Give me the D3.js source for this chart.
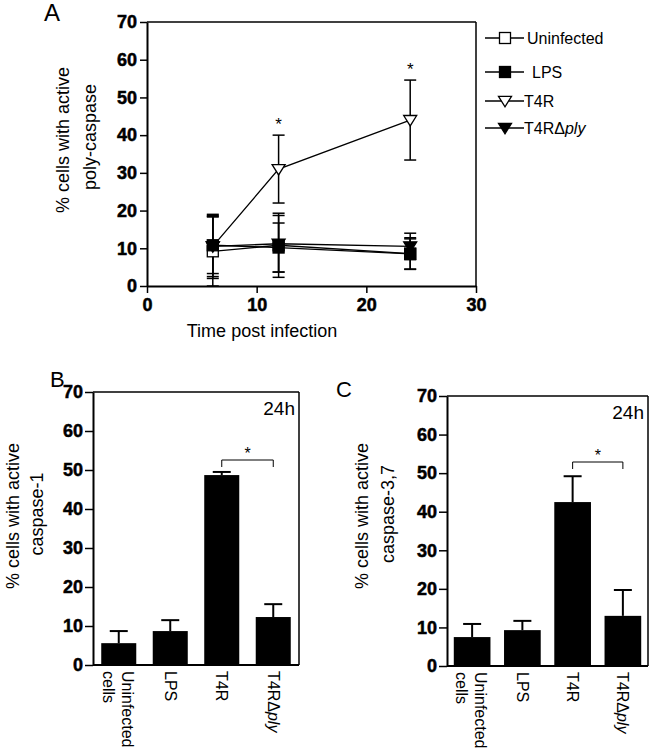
<!DOCTYPE html>
<html><head><meta charset="utf-8">
<script src="https://cdn.jsdelivr.net/npm/d3@7"></script>
<style>
body{margin:0;background:#fff;}
svg{display:block;font-family:"Liberation Sans",Arial,sans-serif;}
.tick text{font-family:"Liberation Sans",Arial,sans-serif;font-size:18px;font-weight:bold;fill:#000;stroke:#000;stroke-width:0.5px;}
</style></head>
<body><svg id="c" width="650" height="751"></svg>
<script>
// ---- Panel A data ----
const timePoints = [6, 12, 24];
const seriesNames = ["Uninfected", "LPS", "T4R", "T4R\u0394ply"];
const uninfectedVals = [9.2, 10.8, 8.6];
const uninfectedErr  = [9.5, 8.5, 4.2];
const lpsVals = [10.8, 10.2, 8.5];
const lpsErr  = [7.5, 6.5, 4.0];
const t4rVals = [10.5, 31.0, 44.0];
const t4rErr  = [8.0, 9.0, 10.6];
const t4rplyVals = [10.5, 11.2, 10.5];
const t4rplyErr  = [8.5, 7.5, 3.5];
const aXTicks = [0, 10, 20, 30];
const yTicks = [0, 10, 20, 30, 40, 50, 60, 70];
const aStars = [12, 24];

// ---- Panel B / C data ----
const barCategories = ["Uninfected cells", "LPS", "T4R", "T4R\u0394ply"];
const caspase1Vals = [5.6, 8.7, 48.7, 12.3];
const caspase1Err  = [3.1, 2.8, 0.8, 3.3];
const caspase37Vals = [7.5, 9.3, 42.5, 13.0];
const caspase37Err  = [3.4, 2.4, 6.7, 6.7];

const svg = d3.select("#c");
const black = "#000";

// ===== Panel A =====
const ax = d3.scaleLinear().domain([0, 30]).range([147, 476]);
const ay = d3.scaleLinear().domain([0, 70]).range([286, 22]);
const gA = svg.append("g");

function styleAxis(g){
  g.attr("font-size", null).attr("font-family", null);
  g.selectAll("path.domain").attr("stroke", black).attr("stroke-width", 2);
  g.selectAll(".tick line").attr("stroke", black).attr("stroke-width", 1.5);
  g.selectAll(".tick text").attr("font-weight", "bold");
}
const yA = gA.append("g").attr("transform", "translate(147,0)")
  .call(d3.axisLeft(ay).tickValues(yTicks).tickSize(7).tickSizeOuter(0).tickPadding(3));
styleAxis(yA);
const xA = gA.append("g").attr("transform", "translate(0,286)")
  .call(d3.axisBottom(ax).tickValues(aXTicks).tickSize(7).tickSizeOuter(0).tickPadding(5));
styleAxis(xA);
// frame
gA.append("line").attr("x1", 147).attr("x2", 476).attr("y1", 22).attr("y2", 22).attr("stroke", black).attr("stroke-width", 1.5);
gA.append("line").attr("x1", 476).attr("x2", 476).attr("y1", 22).attr("y2", 286).attr("stroke", black).attr("stroke-width", 1.5);

const series = [
  {name: seriesNames[2], vals: t4rVals, err: t4rErr, marker: "triDownOpen"},
  {name: seriesNames[0], vals: uninfectedVals, err: uninfectedErr, marker: "sqOpen"},
  {name: seriesNames[1], vals: lpsVals, err: lpsErr, marker: "sqFill"},
  {name: seriesNames[3], vals: t4rplyVals, err: t4rplyErr, marker: "triDownFill"}
];

function drawMarker(g, type, cx, cy){
  if (type === "sqOpen" || type === "sqFill"){
    g.append("rect").attr("x", cx - 5.5).attr("y", cy - 5.5).attr("width", 11).attr("height", 11)
      .attr("fill", type === "sqFill" ? black : "#fff").attr("stroke", black).attr("stroke-width", 1.3);
  } else {
    const s = 6.5;
    g.append("path").attr("d", `M${cx - s},${cy - s * 0.7}L${cx + s},${cy - s * 0.7}L${cx},${cy + s * 0.9}Z`)
      .attr("fill", type === "triDownFill" ? black : "#fff").attr("stroke", black).attr("stroke-width", 1.3);
  }
}

const line = d3.line().x(d => ax(d[0])).y(d => ay(d[1]));
series.forEach(s => {
  const pts = timePoints.map((t, i) => [t, s.vals[i]]);
  gA.append("path").attr("d", line(pts)).attr("fill", "none").attr("stroke", black).attr("stroke-width", 1.3);
});
series.forEach(s => {
  timePoints.forEach((t, i) => {
    const x = ax(t), y1 = ay(s.vals[i] + s.err[i]), y0 = ay(Math.max(0, s.vals[i] - s.err[i]));
    gA.append("line").attr("x1", x).attr("x2", x).attr("y1", y1).attr("y2", y0).attr("stroke", black).attr("stroke-width", 1.5);
    [y1, y0].forEach(yy => gA.append("line").attr("x1", x - 6).attr("x2", x + 6).attr("y1", yy).attr("y2", yy)
      .attr("stroke", black).attr("stroke-width", 1.5));
  });
});
series.forEach(s => {
  timePoints.forEach((t, i) => drawMarker(gA, s.marker, ax(t), ay(s.vals[i])));
});
// stars
aStars.forEach(t => {
  const i = timePoints.indexOf(t);
  const s = series[0];
  gA.append("text").attr("x", ax(t)).attr("y", ay(s.vals[i] + s.err[i]) - 5).attr("text-anchor", "middle")
    .attr("font-size", 17).text("*");
});
// axis titles
gA.append("text").attr("x", 262).attr("y", 337).attr("text-anchor", "middle").attr("font-size", 18).text("Time post infection");
gA.append("text").attr("transform", "translate(69,140) rotate(-90)").attr("text-anchor", "middle").attr("font-size", 18).text("% cells with active");
gA.append("text").attr("transform", "translate(96,137) rotate(-90)").attr("text-anchor", "middle").attr("font-size", 18).text("poly-caspase");
gA.append("text").attr("x", 44).attr("y", 21).attr("font-size", 24).text("A");

// legend
const legendItems = [
  {name: seriesNames[0], marker: "sqOpen", y: 38, tx: 527},
  {name: seriesNames[1], marker: "sqFill", y: 72, tx: 532},
  {name: seriesNames[2], marker: "triDownOpen", y: 101, tx: 524},
  {name: seriesNames[3], marker: "triDownFill", y: 128, tx: 524}
];
legendItems.forEach(li => {
  gA.append("line").attr("x1", 485).attr("x2", 524).attr("y1", li.y).attr("y2", li.y).attr("stroke", black).attr("stroke-width", 1.3);
  drawMarker(gA, li.marker, 505, li.y);
  const t = gA.append("text").attr("x", li.tx).attr("y", li.y + 6).attr("font-size", 16);
  if (li.name.indexOf("\u0394") >= 0){
    t.append("tspan").text("T4R\u0394");
    t.append("tspan").attr("font-style", "italic").text("ply");
  } else t.text(li.name);
});

// ===== Bar panels =====
function barPanel(opts){
  const g = svg.append("g");
  const x = d3.scaleBand().domain(barCategories).range([opts.x0, opts.x1]).paddingInner(opts.pad).paddingOuter(opts.pad / 2);
  const y = d3.scaleLinear().domain([0, 70]).range([opts.yb, opts.yt]);
  const yAx = g.append("g").attr("transform", `translate(${opts.x0},0)`)
    .call(d3.axisLeft(y).tickValues(yTicks).tickSize(8).tickSizeOuter(0).tickPadding(2));
  styleAxis(yAx);
  g.append("line").attr("x1", opts.x0).attr("x2", opts.x1).attr("y1", opts.yb).attr("y2", opts.yb).attr("stroke", black).attr("stroke-width", 2);
  g.append("line").attr("x1", opts.x0).attr("x2", opts.x1).attr("y1", opts.yt).attr("y2", opts.yt).attr("stroke", black).attr("stroke-width", 1.5);
  g.append("line").attr("x1", opts.x1).attr("x2", opts.x1).attr("y1", opts.yt).attr("y2", opts.yb).attr("stroke", black).attr("stroke-width", 1.5);
  barCategories.forEach((c, i) => {
    const bx = x(c), bw = x.bandwidth(), cx = bx + bw / 2;
    const top = y(opts.vals[i] + opts.err[i]);
    g.append("line").attr("x1", cx).attr("x2", cx).attr("y1", top).attr("y2", y(opts.vals[i])).attr("stroke", black).attr("stroke-width", 2);
    g.append("line").attr("x1", cx - 9).attr("x2", cx + 9).attr("y1", top).attr("y2", top).attr("stroke", black).attr("stroke-width", 2);
    g.append("rect").attr("x", bx).attr("y", y(opts.vals[i])).attr("width", bw).attr("height", opts.yb - y(opts.vals[i])).attr("fill", black);
    // rotated label
    const t = g.append("text").attr("transform", `translate(${cx},${opts.yb + 6}) rotate(90)`).attr("font-size", 16);
    if (c === "Uninfected cells"){
      t.append("tspan").attr("x", 0).attr("dy", "-0.2em").text("Uninfected");
      t.append("tspan").attr("x", 0).attr("dy", "1.2em").text("cells");
    } else if (c.indexOf("\u0394") >= 0){
      t.append("tspan").attr("dy", "0.35em").text("T4R\u0394");
      t.append("tspan").attr("font-style", "italic").text("ply");
    } else {
      t.append("tspan").attr("dy", "0.35em").text(c);
    }
  });
  // bracket
  const c1 = x("T4R") + x.bandwidth() / 2, c2 = x("T4R\u0394ply") + x.bandwidth() / 2;
  g.append("path").attr("d", `M${c1},${opts.brY + 7}V${opts.brY}H${c2}V${opts.brY + 7}`).attr("fill", "none").attr("stroke", black).attr("stroke-width", 1);
  g.append("text").attr("x", (c1 + c2) / 2).attr("y", opts.brY - 1).attr("text-anchor", "middle").attr("font-size", 16).text("*");
  g.append("text").attr("x", opts.x1 - 4).attr("y", opts.yt + 23).attr("text-anchor", "end").attr("font-size", 19).text("24h");
  g.append("text").attr("transform", `translate(${opts.tx1},516) rotate(-90)`).attr("text-anchor", "middle").attr("font-size", 18).text("% cells with active");
  g.append("text").attr("transform", `translate(${opts.tx2},514) rotate(-90)`).attr("text-anchor", "middle").attr("font-size", 18).text(opts.title2);
  g.append("text").attr("x", opts.lx).attr("y", opts.ly).attr("font-size", 22).text(opts.letter);
}

barPanel({x0: 93, x1: 299, yt: 392, yb: 665, pad: 0.32, vals: caspase1Vals, err: caspase1Err,
  brY: 460, tx1: 19, tx2: 43, title2: "caspase-1", letter: "B", lx: 50, ly: 387});
barPanel({x0: 447, x1: 648, yt: 396, yb: 666, pad: 0.27, vals: caspase37Vals, err: caspase37Err,
  brY: 462, tx1: 368, tx2: 394, title2: "caspase-3,7", letter: "C", lx: 336, ly: 397});
</script></body></html>
